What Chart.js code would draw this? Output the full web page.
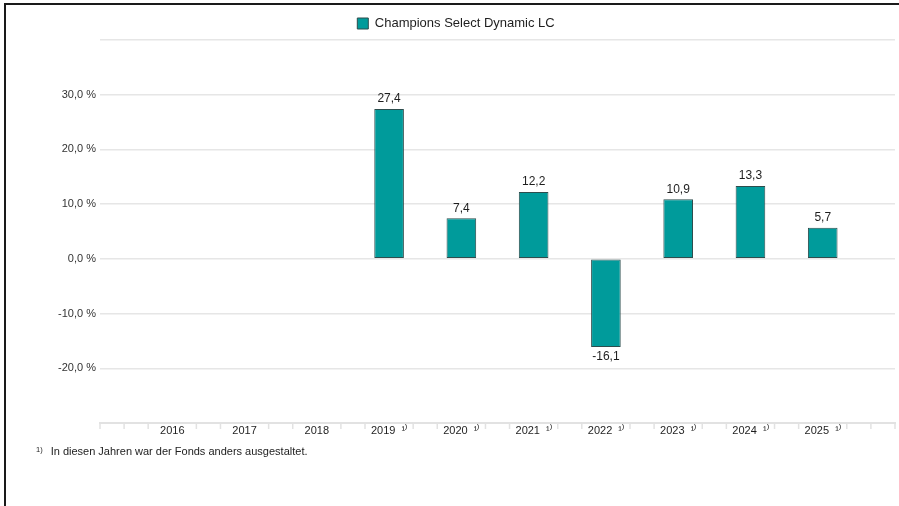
<!DOCTYPE html>
<html>
<head>
<meta charset="utf-8">
<script src="https://cdn.jsdelivr.net/npm/chart.js@4/dist/chart.umd.min.js"></script>
<style>
  html, body { margin: 0; padding: 0; background: #fff; }
  #wrap { position: relative; width: 899px; height: 506px; overflow: hidden; font-family: "Liberation Sans", Arial, sans-serif; }
  #frameTop { position: absolute; left: 4px; top: 3px; width: 895px; height: 2px; background: #1a1a1a; }
  #frameLeft { position: absolute; left: 4px; top: 3px; width: 2px; height: 503px; background: #1a1a1a; }
  #c { position: absolute; left: 0; top: 0; }
  #note { position: absolute; left: 36px; top: 445px; font-size: 11px; color: #222; white-space: nowrap; }
  #note sup { font-size: 7.5px; vertical-align: 3px; margin-right: 8px; }
</style>
</head>
<body>
<div id="wrap">
  <canvas id="c" width="899" height="506"></canvas>
  <div id="frameTop"></div>
  <div id="frameLeft"></div>
  <div id="note"><sup>1)</sup>In diesen Jahren war der Fonds anders ausgestaltet.</div>
</div>
<script>
// ---- data ----
const years = ['', '2016', '2017', '2018', '2019', '2020', '2021', '2022', '2023', '2024', '2025', ''];
const footnoteYears = ['2019', '2020', '2021', '2022', '2023', '2024', '2025'];
const seriesName = 'Champions Select Dynamic LC';
const returns = [null, null, null, null, 27.4, 7.4, 12.2, -16.1, 10.9, 13.3, 5.7, null];
const yTicks = [-20, -10, 0, 10, 20, 30];

const FONT = '"Liberation Sans", Arial, sans-serif';
const labels = years.map(y => footnoteYears.includes(y) ? y + '  \u00B9\u207E' : y);
const fmt = v => v.toFixed(1).replace('.', ',');

const valueLabels = {
  id: 'valueLabels',
  afterDatasetsDraw(chart) {
    const ctx = chart.ctx;
    const meta = chart.getDatasetMeta(0);
    ctx.save();
    ctx.font = '12px ' + FONT;
    ctx.fillStyle = '#1e1e1e';
    ctx.textAlign = 'center';
    meta.data.forEach((bar, i) => {
      const v = returns[i];
      if (v === null || v === undefined) return;
      if (v >= 0) {
        ctx.textBaseline = 'bottom';
        ctx.fillText(fmt(v), bar.x, bar.y - 4);
      } else {
        ctx.textBaseline = 'top';
        ctx.fillText(fmt(v), bar.x, bar.y + 4);
      }
    });
    ctx.restore();
  }
};

const minorTicks = {
  id: 'minorTicks',
  afterDraw(chart) {
    const xs = chart.scales.x;
    const ctx = chart.ctx;
    const y0 = chart.chartArea.bottom;
    const n = years.length - 1;
    ctx.save();
    ctx.strokeStyle = '#e2e2e2';
    ctx.lineWidth = 1.5;
    for (let k = 0; k <= n * 3; k++) {
      const isEnd = (k === 0 || k === n * 3);
      if (k % 3 === 0 && !isEnd) continue;
      const i = Math.floor(k / 3);
      const p0 = xs.getPixelForValue(i);
      const p1 = i < n ? xs.getPixelForValue(i + 1) : p0;
      const x = p0 + (p1 - p0) * (k % 3) / 3;
      ctx.beginPath();
      ctx.moveTo(x, y0 - 1);
      ctx.lineTo(x, y0 + 6);
      ctx.stroke();
    }
    ctx.restore();
  }
};

new Chart(document.getElementById('c'), {
  type: 'bar',
  data: {
    labels: labels,
    datasets: [{
      label: seriesName,
      data: returns,
      backgroundColor: '#009b9b',
      borderColor: '#2d4d4d',
      borderWidth: 1,
      borderSkipped: false,
      categoryPercentage: 1,
      barPercentage: 0.41
    }]
  },
  options: {
    responsive: false,
    animation: false,
    layout: { padding: { left: 17, right: 4, top: 9, bottom: 59 } },
    plugins: {
      legend: {
        display: true,
        labels: {
          font: { family: FONT, size: 13 },
          color: '#1e1e1e',
          boxWidth: 11,
          boxHeight: 11,
          padding: 8
        }
      },
      tooltip: { enabled: false }
    },
    scales: {
      x: {
        offset: false,
        grid: { display: true, drawOnChartArea: false, drawTicks: false, color: 'rgba(0,0,0,0)' },
        border: { display: true, color: '#e2e2e2', width: 2 },
        ticks: {
          font: { family: FONT, size: 11 },
          color: '#1e1e1e',
          padding: 1,
          maxRotation: 0,
          autoSkip: false
        },
        afterFit(s) { s.height = 24; }
      },
      y: {
        min: -30,
        max: 40,
        afterBuildTicks(s) {
          s.ticks = [-30, -20, -10, 0, 10, 20, 30, 40].map(v => ({ value: v }));
        },
        grid: {
          drawTicks: false,
          color: ctx => (ctx.tick && ctx.tick.value === -30) ? 'rgba(0,0,0,0)' : '#e6e6e6',
          lineWidth: 1.5
        },
        border: { display: false },
        ticks: {
          font: { family: FONT, size: 11 },
          color: '#333',
          padding: 4,
          callback: v => yTicks.includes(v) ? fmt(v) + ' %' : ''
        },
        afterFit(s) { s.width = 83; }
      }
    }
  },
  plugins: [valueLabels, minorTicks]
});
</script>
</body>
</html>
